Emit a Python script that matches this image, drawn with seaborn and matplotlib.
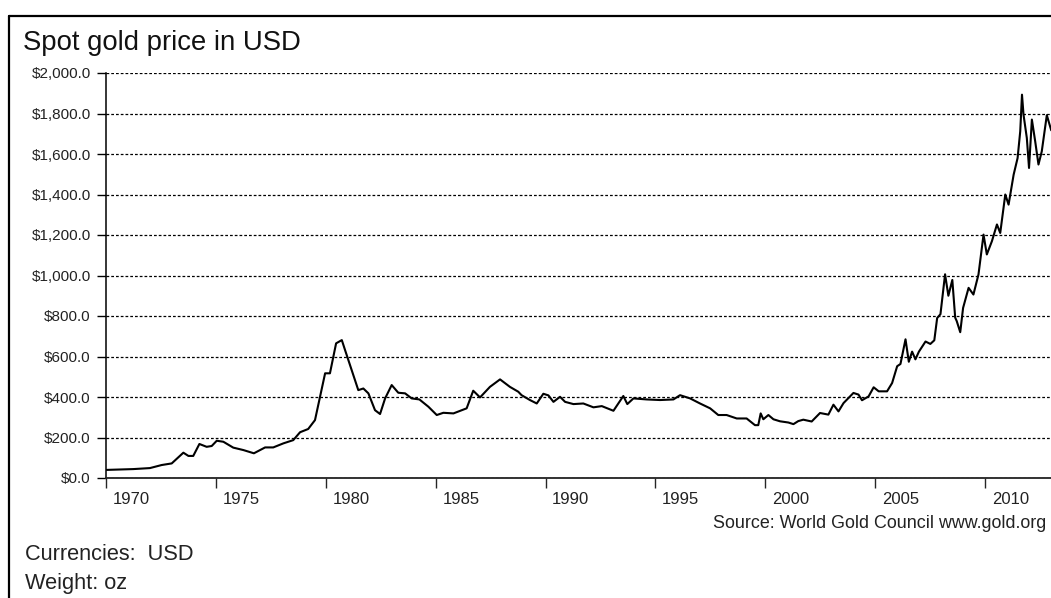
import matplotlib
matplotlib.use('Agg')
import matplotlib.pyplot as plt
import matplotlib.ticker as mticker
from matplotlib.lines import Line2D
import seaborn as sns
import pandas as pd

# Spot gold price (USD/oz)
years = [
    1970.03, 1971.24, 1972.00, 1972.53, 1972.99, 1973.52, 1973.75, 1973.97,
    1974.25, 1974.58, 1974.81, 1975.04, 1975.34, 1975.79, 1976.25, 1976.73,
    1977.24, 1977.61, 1978.07, 1978.52, 1978.83, 1979.20, 1979.51, 1979.74,
    1979.97, 1980.19, 1980.47, 1980.73, 1980.88, 1981.18, 1981.48, 1981.71,
    1981.94, 1982.24, 1982.47, 1982.70, 1983.00, 1983.30, 1983.61, 1983.91,
    1984.26, 1984.67, 1985.05, 1985.35, 1985.81, 1986.41, 1986.71, 1987.02,
    1987.47, 1987.93, 1988.38, 1988.76, 1988.91, 1989.29, 1989.60, 1989.90,
    1990.13, 1990.36, 1990.66, 1990.89, 1991.27, 1991.72, 1992.18, 1992.56,
    1993.09, 1993.54, 1993.72, 1994.00, 1994.60, 1995.21, 1995.82, 1996.12,
    1996.58, 1997.03, 1997.49, 1997.86, 1998.24, 1998.70, 1999.15, 1999.53,
    1999.68, 1999.79, 1999.91, 2000.14, 2000.37, 2000.67, 2001.05, 2001.28,
    2001.50, 2001.73, 2002.11, 2002.49, 2002.87, 2003.10, 2003.33, 2003.56,
    2004.01, 2004.24, 2004.40, 2004.70, 2004.93, 2005.16, 2005.54, 2005.77,
    2006.00, 2006.15, 2006.38, 2006.53, 2006.68, 2006.83, 2006.99, 2007.29,
    2007.51, 2007.69, 2007.82, 2007.97, 2008.18, 2008.33, 2008.51, 2008.64,
    2008.71, 2008.87, 2009.00, 2009.25, 2009.47, 2009.70, 2009.93, 2010.08,
    2010.31, 2010.54, 2010.69, 2010.92, 2011.07, 2011.30, 2011.48, 2011.60,
    2011.68, 2011.75, 2011.90, 2012.00, 2012.13, 2012.28, 2012.43, 2012.58,
    2012.81, 2013.01,
]
prices = [
    40, 44, 49, 64, 72, 125, 109, 109,
    168, 154, 158, 184, 179, 150, 138, 122,
    151, 151, 171, 187, 226, 242, 286, 401,
    517, 517, 665, 681, 631, 533, 434, 442,
    418, 335, 316, 393, 459, 421, 418, 393,
    388, 352, 311, 322, 319, 344, 431, 398,
    450, 487, 450, 426, 409, 385, 368, 416,
    408, 376, 401, 376, 365, 368, 349, 355,
    332, 405, 365, 393, 388, 385, 388, 409,
    393, 368, 344, 311, 311, 294, 294, 261,
    261, 319, 290, 311, 290, 280, 274, 266,
    281, 288, 279, 321, 313, 362, 329, 370,
    420, 412, 384, 403, 448, 428, 428, 469,
    552, 563, 685, 574, 624, 586, 624, 674,
    662, 680, 790, 809, 1006, 900, 978, 792,
    775, 720, 840, 939, 906, 1005, 1202, 1104,
    1169, 1252, 1210, 1400, 1350, 1498, 1580, 1712,
    1893, 1794, 1679, 1531, 1770, 1663, 1548, 1613,
    1792, 1717,
]

tick_years = [1970, 1975, 1980, 1985, 1990, 1995, 2000, 2005, 2010]
tick_labels = [str(y) for y in tick_years]
y_ticks = list(range(0, 2001, 200))

df = pd.DataFrame({'year': years, 'price': prices})

sns.set_style('white')
plt.rcParams['font.family'] = ['Liberation Sans', 'DejaVu Sans']

W, H = 1051, 598
fig = plt.figure(figsize=(W / 100, H / 100), dpi=100)
ax = fig.add_axes([106 / W, 1 - 478 / H, 1 - 106 / W, (478 - 73) / H])

sns.lineplot(data=df, x='year', y='price', color='black', linewidth=1.5,
             estimator=None, ax=ax)

ax.set_xlim(1970, 2013.0)
ax.set_ylim(0, 2000)
ax.set_xlabel('')
ax.set_ylabel('')

# y axis
ax.set_yticks(y_ticks)
ax.yaxis.set_major_formatter(mticker.StrMethodFormatter('${x:,.1f}'))
ax.tick_params(axis='y', direction='out', length=6.5, width=1, pad=4.5,
               labelsize=11, colors='black', labelcolor='#222222', left=True)
ax.yaxis.grid(True, linestyle=(0, (2.2, 1.6)), color='black', linewidth=0.9)
ax.xaxis.grid(False)

# x axis: tick marks at the years, labels shifted a little to the right
ax.set_xticks(tick_years)
ax.set_xticklabels([])
ax.tick_params(axis='x', which='major', direction='out', length=7, width=1,
               bottom=True)
ax.set_xticks([y + 1.15 for y in tick_years], minor=True)
ax.set_xticklabels(tick_labels, minor=True)
ax.tick_params(axis='x', which='minor', length=0, pad=10, labelsize=12,
               labelcolor='#222222')

for side in ['top', 'right']:
    ax.spines[side].set_visible(False)
ax.spines['left'].set_linewidth(1.1)
ax.spines['bottom'].set_linewidth(1.3)
ax.spines['left'].set_color('black')
ax.spines['bottom'].set_color('#222222')

# texts
fig.text(23 / W, 1 - 50 / H, 'Spot gold price in USD', fontsize=19.8,
         color='#111111', va='baseline', ha='left')
fig.text(713 / W, 1 - 528 / H, 'Source: World Gold Council www.gold.org',
         fontsize=12.9, color='#222222', va='baseline', ha='left')
fig.text(25 / W, 1 - 560 / H, 'Currencies:  USD', fontsize=15.7,
         color='#222222', va='baseline', ha='left')
fig.text(25 / W, 1 - 589 / H, 'Weight: oz', fontsize=15.7,
         color='#222222', va='baseline', ha='left')

# outer frame (top and left edges visible)
fig.add_artist(Line2D([8.5 / W, 1], [1 - 15.5 / H, 1 - 15.5 / H],
                      transform=fig.transFigure, color='black', lw=1.6))
fig.add_artist(Line2D([8.5 / W, 8.5 / W], [0, 1 - 15.5 / H],
                      transform=fig.transFigure, color='black', lw=1.6))

fig.savefig('out.png', dpi=100)
